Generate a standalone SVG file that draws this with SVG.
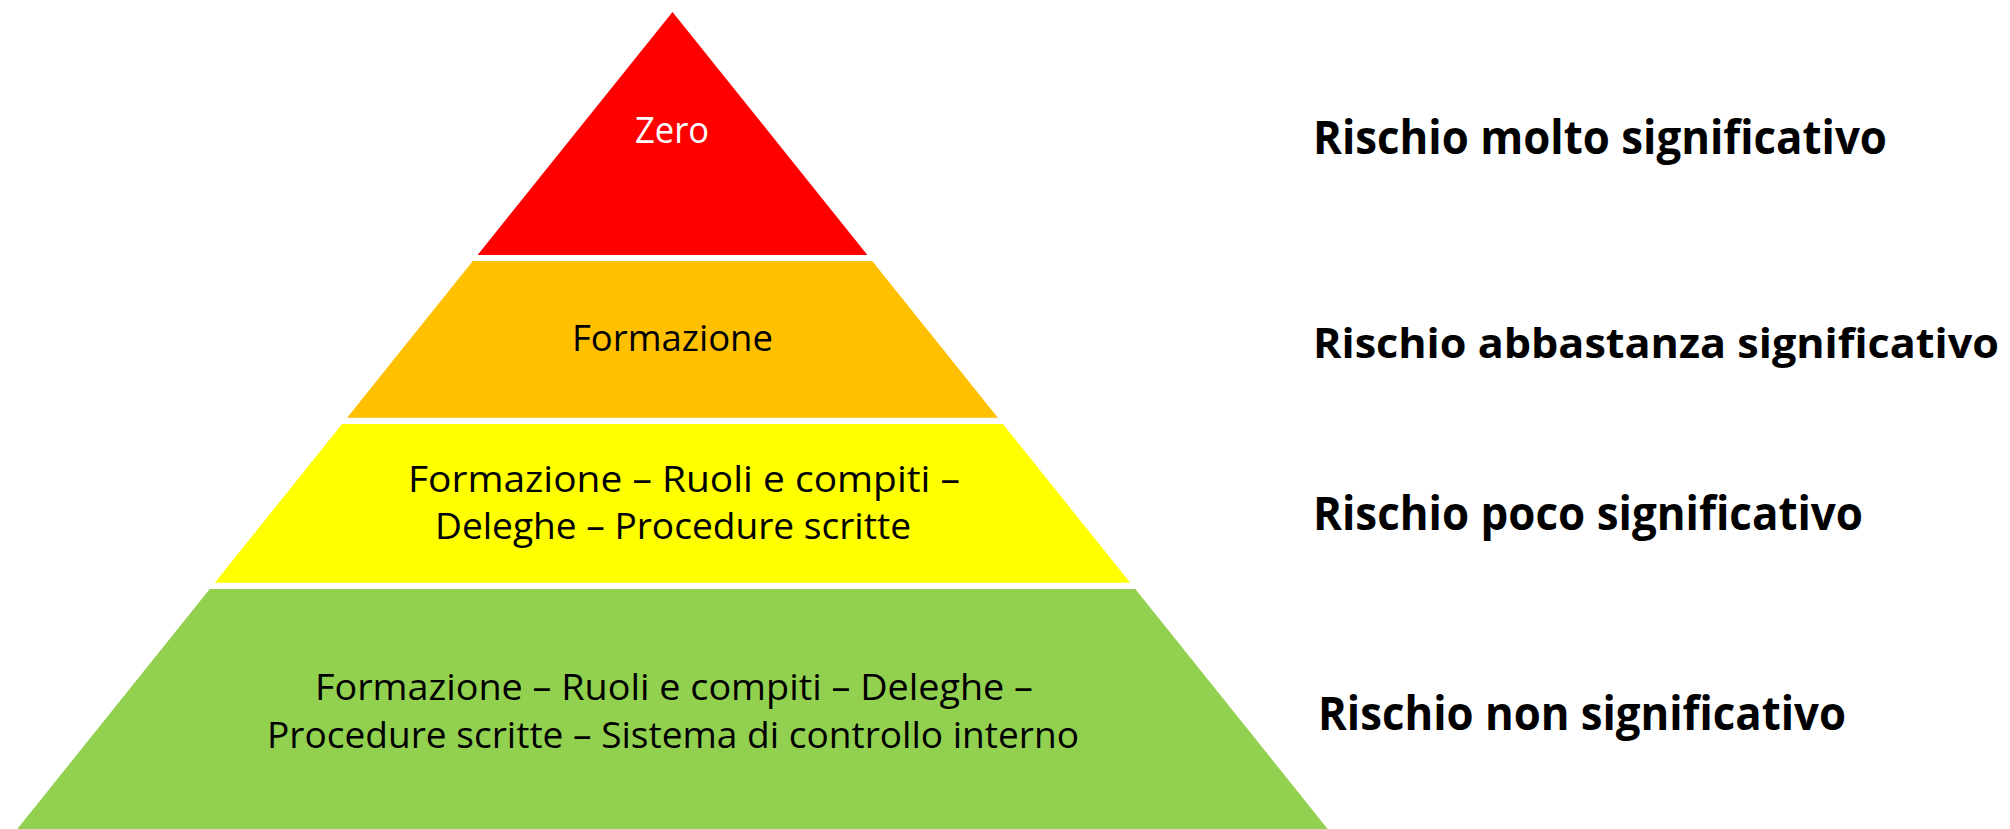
<svg xmlns="http://www.w3.org/2000/svg" width="2010" height="829" viewBox="0 0 2010 829">
<style>
.t{font-family:"Open Sans","Liberation Sans",sans-serif;font-size:36px;fill:#000}
.w{fill:#fff}
.b{font-family:"Open Sans","Liberation Sans",sans-serif;font-size:46px;font-weight:bold;fill:#000}
</style>
<rect width="2010" height="829" fill="#fff"/>
<g id="level-red">
<polygon points="672.5,12 867.4,255 477.6,255" fill="#FF0000"/>
<text class="t w" x="635" y="143" textLength="74" lengthAdjust="spacingAndGlyphs">Zero</text>
</g>
<g id="level-orange">
<polygon points="472.8,261 872.2,261 997.9,417.7 347.1,417.7" fill="#FFC000"/>
<text class="t" x="572" y="351" textLength="201" lengthAdjust="spacingAndGlyphs">Formazione</text>
</g>
<g id="level-yellow">
<polygon points="342.1,424 1002.9,424 1130.2,582.7 214.8,582.7" fill="#FFFF00"/>
<text class="t" x="408" y="491.7" textLength="552" lengthAdjust="spacingAndGlyphs">Formazione – Ruoli e compiti –</text>
<text class="t" x="435" y="539.3" textLength="476" lengthAdjust="spacingAndGlyphs">Deleghe – Procedure scritte</text>
</g>
<g id="level-green">
<polygon points="209.7,589 1135.3,589 1327.7,829 17.3,829" fill="#92D050"/>
<text class="t" x="315" y="700" textLength="718" lengthAdjust="spacingAndGlyphs">Formazione – Ruoli e compiti – Deleghe –</text>
<text class="t" x="267" y="748" textLength="812" lengthAdjust="spacingAndGlyphs">Procedure scritte – Sistema di controllo interno</text>
</g>
<g id="labels">
<text class="b" x="1313" y="154" textLength="574" lengthAdjust="spacingAndGlyphs">Rischio molto significativo</text>
<text class="b" x="1313" y="358" style="font-size:42px" textLength="686" lengthAdjust="spacingAndGlyphs">Rischio abbastanza significativo</text>
<text class="b" x="1313" y="530" textLength="550" lengthAdjust="spacingAndGlyphs">Rischio poco significativo</text>
<text class="b" x="1318" y="730" textLength="528" lengthAdjust="spacingAndGlyphs">Rischio non significativo</text>
</g>
<g id="connectors"/>
</svg>
